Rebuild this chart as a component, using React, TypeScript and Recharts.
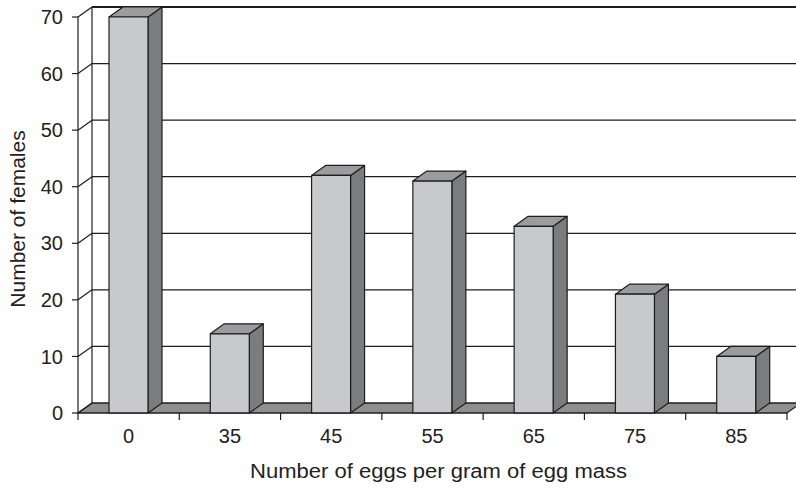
import React from "react";
import { BarChart, Bar, XAxis, YAxis, CartesianGrid } from "recharts";

// Egg-mass classes and how many females fell in each
const eggClasses = ["0", "35", "45", "55", "65", "75", "85"];
const femaleCounts = [70, 14, 42, 41, 33, 21, 10];
const yTicks = [0, 10, 20, 30, 40, 50, 60, 70];

const data = eggClasses.map((c, i) => ({ eggs: c, females: femaleCounts[i] }));

// depth offset of the pseudo-3D box (right, up)
const DX = 14;
const DY = 10;
const INK = "#1e1e1e";
const FONT = "'Liberation Sans', Arial, Helvetica, sans-serif";

const X_TICK_SIZE = 7;
const X_TICK_MARGIN = 9;

// Bar drawn as a box: front face, right side, top
const BoxBar = (p: any) => {
  const { x, y, width, height } = p;
  if (width == null || height == null) return null;
  const r = x + width;
  const b = y + height;
  return (
    <g stroke={INK} strokeWidth={1.2} strokeLinejoin="round">
      <polygon
        points={`${r},${y} ${r + DX},${y - DY} ${r + DX},${b - DY} ${r},${b}`}
        fill="#7b7c7e"
      />
      <polygon
        points={`${x},${y} ${x + DX},${y - DY} ${r + DX},${y - DY} ${r},${y}`}
        fill="#9b9c9e"
      />
      <rect x={x} y={y} width={width} height={height} fill="#c8c9cb" />
    </g>
  );
};

// Each horizontal grid line becomes: slanted side-wall edge + back-wall line.
// The bottom one also carries the floor; the top one closes the back wall.
const WallLine = (p: any) => {
  const { x1, y1, x2, index } = p;
  const pts: number[] = p.horizontalPoints || [];
  const bottom = pts.length ? Math.max(...pts) : p.y + p.height;
  const top = pts.length ? Math.min(...pts) : p.y;
  const isBottom = Math.abs(y1 - bottom) < 0.5;
  const isTop = Math.abs(y1 - top) < 0.5;
  return (
    <g key={`wall-${index}`}>
      {isBottom && (
        <polygon
          points={`${x1},${y1} ${x1 + DX},${y1 - DY} ${x2 + DX},${y1 - DY} ${x2},${y1}`}
          fill="#8f8f90"
          stroke={INK}
          strokeWidth={1.2}
        />
      )}
      <line x1={x1} y1={y1} x2={x1 + DX} y2={y1 - DY} stroke={INK} strokeWidth={1.2} />
      <line
        x1={x1 + DX}
        y1={y1 - DY}
        x2={x2 + DX}
        y2={y1 - DY}
        stroke={INK}
        strokeWidth={isTop ? 2.2 : 1.2}
      />
      {isTop && (
        <line
          x1={x1 + DX}
          y1={y1 - DY}
          x2={x1 + DX}
          y2={bottom - DY}
          stroke={INK}
          strokeWidth={1.2}
        />
      )}
    </g>
  );
};

// Category labels centred in the band, tick marks on the band edges
const XTick = (p: any) => {
  const { x, y, payload, index, visibleTicksCount } = p;
  const off = payload.offset || 0;
  const axisY = y - X_TICK_SIZE - X_TICK_MARGIN;
  const last = index === visibleTicksCount - 1;
  return (
    <g>
      <line x1={x - off} y1={axisY} x2={x - off} y2={axisY + X_TICK_SIZE} stroke={INK} strokeWidth={1.2} />
      {last && (
        <line x1={x + off} y1={axisY} x2={x + off} y2={axisY + X_TICK_SIZE} stroke={INK} strokeWidth={1.2} />
      )}
      <text x={x} y={y} dy="0.71em" textAnchor="middle" fontSize={20} fill="#222" fontFamily={FONT}>
        {payload.value}
      </text>
    </g>
  );
};

const XTitle = (p: any) => {
  const vb = p.viewBox || {};
  const cx = vb.x + vb.width / 2 + 6;
  return (
    <text
      x={cx}
      y={vb.y + 65}
      textAnchor="middle"
      fontSize={19.5}
      fill="#222"
      fontFamily={FONT}
      textLength={377}
      lengthAdjust="spacingAndGlyphs"
    >
      Number of eggs per gram of egg mass
    </text>
  );
};

const YTitle = (p: any) => {
  const vb = p.viewBox || {};
  const cx = vb.x - 0.5;
  const cy = vb.y + vb.height / 2 + 4;
  return (
    <text
      x={cx}
      y={cy}
      transform={`rotate(-90 ${cx} ${cy})`}
      textAnchor="middle"
      dominantBaseline="central"
      fontSize={21}
      fill="#222"
      fontFamily={FONT}
    >
      Number of females
    </text>
  );
};

export default function App() {
  return (
    <div style={{ position: "absolute", left: 0, top: 0, background: "#fff", fontFamily: FONT }}>
      <BarChart
        width={796}
        height={488}
        data={data}
        margin={{ top: 17, right: 9, left: 18, bottom: 30 }}
      >
        <CartesianGrid vertical={false} horizontal={WallLine as any} />
        <XAxis
          dataKey="eggs"
          height={45}
          axisLine={{ stroke: INK, strokeWidth: 1.2 }}
          tickLine={false}
          tickSize={X_TICK_SIZE}
          tickMargin={X_TICK_MARGIN}
          tick={XTick as any}
          interval={0}
          label={{ content: XTitle as any }}
        />
        <YAxis
          width={60}
          domain={[0, 70]}
          ticks={yTicks}
          interval={0}
          axisLine={{ stroke: INK, strokeWidth: 1.2 }}
          tickLine={{ stroke: INK, strokeWidth: 1.2 }}
          tickSize={6}
          tickMargin={9}
          tick={{ fontSize: 20, fill: "#222", fontFamily: FONT }}
          label={{ content: YTitle as any }}
        />
        <Bar
          dataKey="females"
          barSize={39}
          shape={BoxBar as any}
          isAnimationActive={false}
        />
      </BarChart>
    </div>
  );
}
